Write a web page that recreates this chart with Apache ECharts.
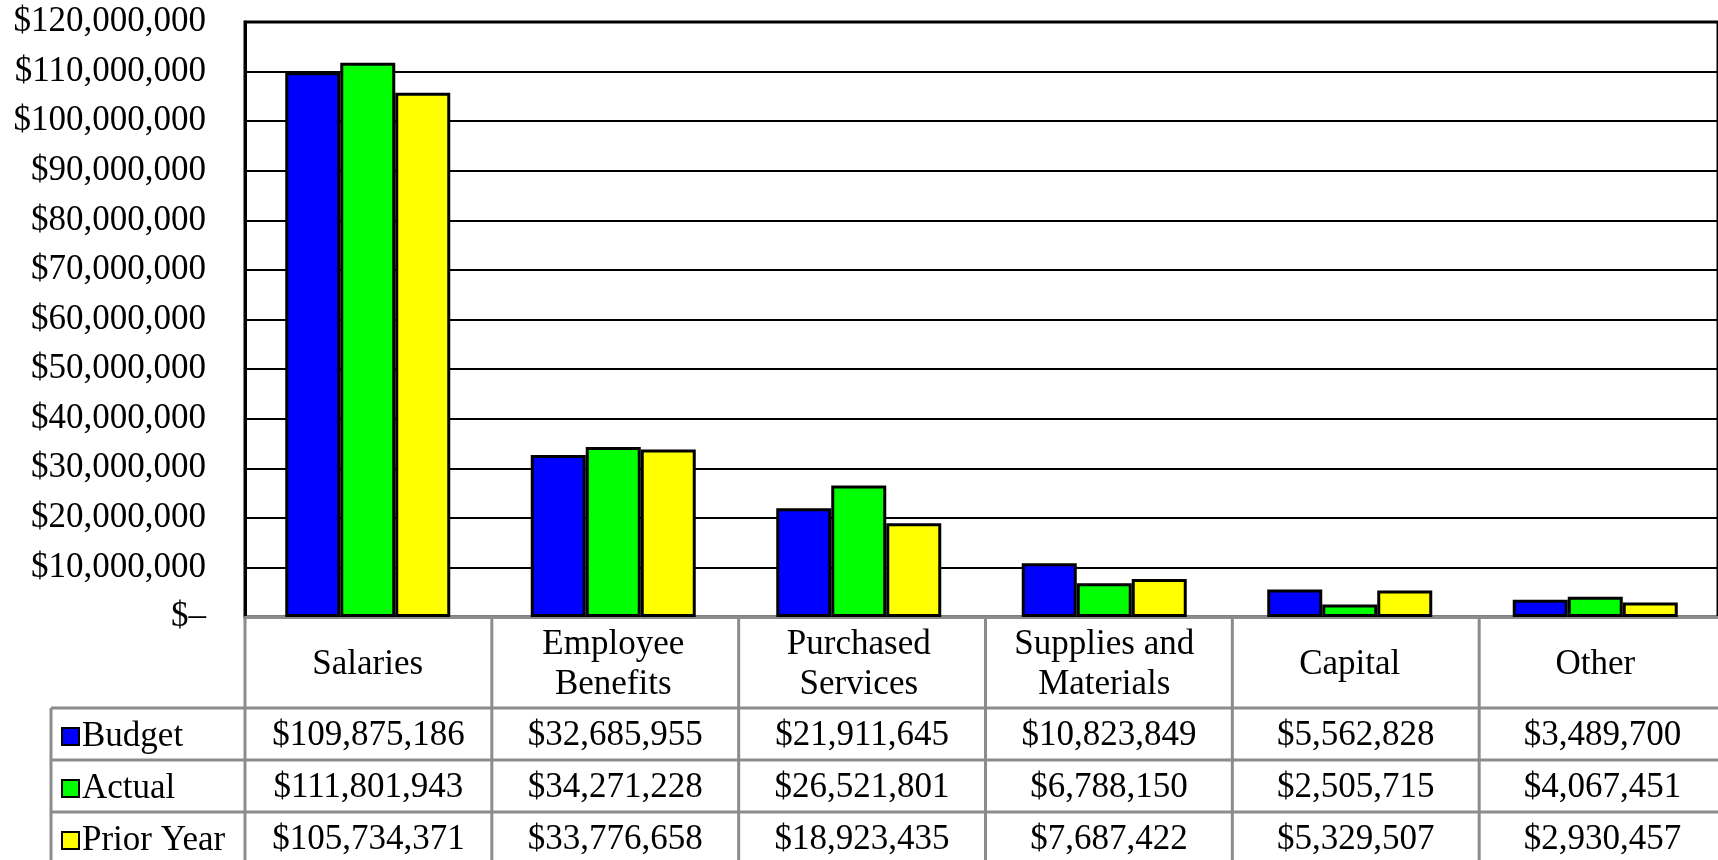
<!DOCTYPE html>
<html>
<head>
<meta charset="utf-8">
<script src="https://cdn.jsdelivr.net/npm/echarts@6/dist/echarts.min.js"></script>
<style>
  html, body { margin: 0; padding: 0; background: #fff; }
  #chart { width: 1718px; height: 860px; }
</style>
</head>
<body>
<div id="chart"></div>
<script>
const categories = ['Salaries', 'Employee\nBenefits', 'Purchased\nServices', 'Supplies and\nMaterials', 'Capital', 'Other'];
const seriesNames = ['Budget', 'Actual', 'Prior Year'];
const budget = [109875186, 32685955, 21911645, 10823849, 5562828, 3489700];
const actual = [111801943, 34271228, 26521801, 6788150, 2505715, 4067451];
const priorYear = [105734371, 33776658, 18923435, 7687422, 5329507, 2930457];
const colors = ['#0000ff', '#00ff00', '#ffff00'];

const FONT = '"Liberation Serif", "Times New Roman", serif';
const FS = 35;

// layout of the plot + table underneath
const gridLeft = 245;
const gridTop = 22;
const gridWidth = 1481;
const gridBottomY = 617;
const colW = gridWidth / categories.length;
const rowLines = [708, 760, 812, 864];
const tableLeft = 51;
const lineColor = '#8c8c8c';

const money = (v) => '$' + v.toLocaleString('en-US');

const allSeries = [budget, actual, priorYear];

const graphics = [];
// horizontal table lines
rowLines.forEach((y) => {
    graphics.push({
        type: 'line',
        shape: { x1: tableLeft, y1: y, x2: 1718, y2: y },
        style: { stroke: lineColor, lineWidth: 3 }
    });
});
// vertical table lines
for (let k = 0; k <= categories.length; k++) {
    const x = gridLeft + k * colW;
    graphics.push({
        type: 'line',
        shape: { x1: x, y1: gridBottomY, x2: x, y2: 860 },
        style: { stroke: lineColor, lineWidth: 3 }
    });
}
graphics.push({
    type: 'line',
    shape: { x1: tableLeft, y1: rowLines[0], x2: tableLeft, y2: 860 },
    style: { stroke: lineColor, lineWidth: 3 }
});
// values in the cells
allSeries.forEach((vals, r) => {
    const cy = (rowLines[r] + rowLines[r + 1]) / 2 + 2;
    vals.forEach((v, i) => {
        graphics.push({
            type: 'text',
            x: gridLeft + colW * (i + 0.5),
            y: cy,
            style: {
                text: money(v),
                font: FS + 'px ' + FONT,
                fill: '#000',
                align: 'center',
                verticalAlign: 'middle'
            }
        });
    });
});

// one legend per table row so each key sits in its own row
const legends = seriesNames.map((name, r) => ({
    orient: 'vertical',
    left: 56,
    top: (rowLines[r] + rowLines[r + 1]) / 2 - 20,
    icon: 'rect',
    itemWidth: 17,
    itemHeight: 17,
    selectedMode: false,
    data: [name],
    itemStyle: { borderColor: '#000', borderWidth: 2 },
    textStyle: { fontFamily: FONT, fontSize: FS, lineHeight: 35, color: '#000', padding: [0, 0, 0, -2] }
}));

const chart = echarts.init(document.getElementById('chart'));
chart.setOption({
    animation: false,
    backgroundColor: '#fff',
    grid: {
        left: gridLeft,
        top: gridTop,
        width: gridWidth,
        height: gridBottomY - gridTop,
        show: true,
        borderColor: '#000',
        borderWidth: 3,
        backgroundColor: 'transparent'
    },
    legend: legends,
    xAxis: {
        type: 'category',
        data: categories,
        axisLine: { show: true, lineStyle: { color: lineColor, width: 3 } },
        axisTick: { show: false },
        axisLabel: {
            interval: 0,
            margin: 48,
            verticalAlign: 'middle',
            fontFamily: FONT,
            fontSize: FS,
            lineHeight: 40,
            color: '#000'
        }
    },
    yAxis: {
        type: 'value',
        min: 0,
        max: 120000000,
        interval: 10000000,
        axisLine: { show: true, lineStyle: { color: '#000', width: 3 } },
        axisTick: { show: false },
        splitLine: { lineStyle: { color: '#000', width: 2 } },
        axisLabel: {
            margin: 39,
            fontFamily: FONT,
            fontSize: FS,
            color: '#000',
            formatter: (v) => (v === 0 ? '$\u2013' : money(v))
        }
    },
    series: allSeries.map((vals, i) => ({
        name: seriesNames[i],
        type: 'bar',
        data: vals,
        barWidth: 55,
        barGap: '0%',
        itemStyle: { color: colors[i], borderColor: '#000', borderWidth: 3 }
    })),
    graphic: graphics
});
</script>
</body>
</html>
